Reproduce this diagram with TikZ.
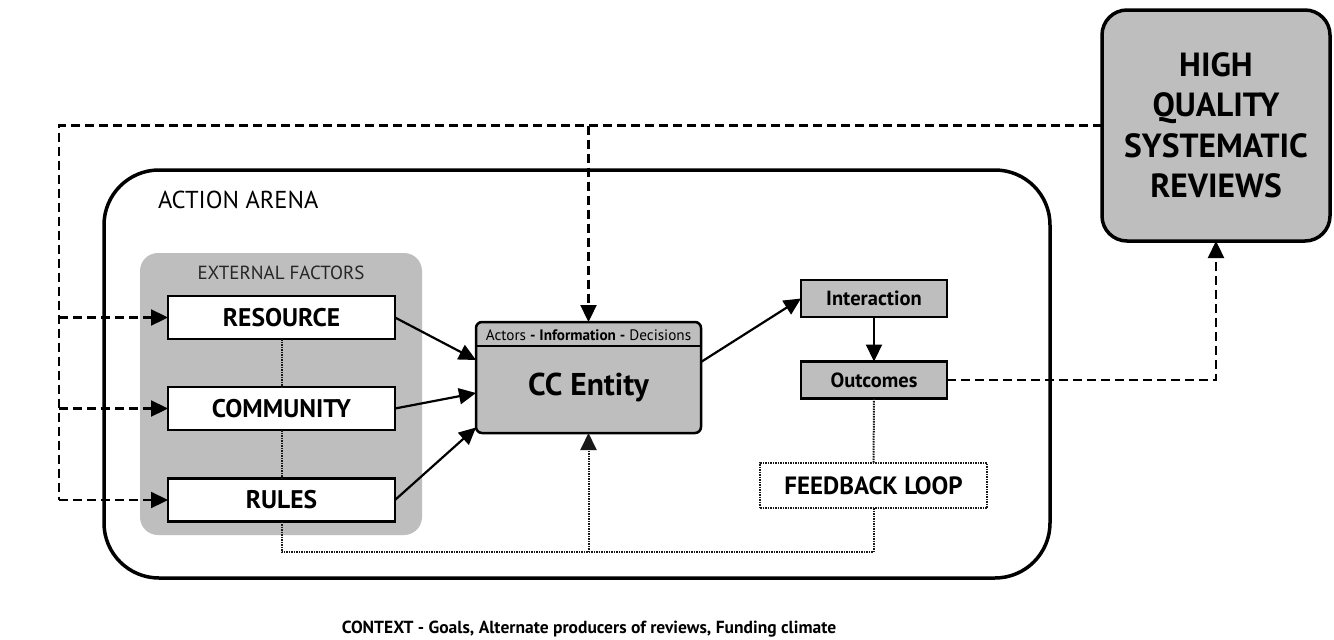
\documentclass[tikz,border=0pt]{standalone}
\usepackage{fontspec}
\setmainfont{PT Sans}
\usetikzlibrary{arrows.meta}
\definecolor{boxgray}{HTML}{BEBEBF}
\begin{document}
\begin{tikzpicture}[x=1pt,y=-1pt,
  every node/.style={inner sep=0pt, outer sep=0pt},
  tip/.style={-{Triangle[length=17pt,width=16pt]}},
  solidline/.style={line width=2.2pt},
  dashline/.style={line width=2.3pt, dash pattern=on 9pt off 5pt},
  dotline/.style={line width=2pt, dash pattern=on 1.5pt off 1pt, draw=black!90},
  whitebox/.style={draw, line width=2.5pt, fill=white, minimum width=227pt, minimum height=43pt, font=\fontsize{25.5}{28}\selectfont\bfseries},
  smallbox/.style={draw, line width=2.5pt, fill=boxgray, minimum width=146pt, minimum height=37pt, font=\fontsize{20.5}{22}\selectfont\bfseries},
]
\useasboundingbox (0,0) rectangle (1334,640);
\fill[white] (0,0) rectangle (1334,640);

% containers
\node[draw, line width=3.5pt, rounded corners=55pt, minimum width=946pt, minimum height=408pt] (arena) at (577,374) {};
\node[fill=boxgray, rounded corners=18pt, minimum width=282pt, minimum height=282pt] (ext) at (281,394) {};
\node[anchor=base west, font=\fontsize{24.5}{26}\selectfont] (arenalabel) at (158,208) {ACTION ARENA};
\node[anchor=base, font=\fontsize{19}{22}\selectfont, text=black!85] (extlabel) at (281,279) {EXTERNAL FACTORS};

% external factor boxes
\node[whitebox] (res) at (281.5,317.5) {RESOURCE};
\node[whitebox] (com) at (281.5,408.5) {COMMUNITY};
\node[whitebox] (rul) at (281.5,500) {RULES};

% CC entity
\node[draw, line width=2.5pt, fill=boxgray, rounded corners=6pt, minimum width=225pt, minimum height=111pt] (cc) at (588.5,377.5) {};
\coordinate (hl) at (0,346);
\draw[line width=2.5pt] (cc.west |- hl) -- (cc.east |- hl);
\node[anchor=base, font=\fontsize{15.2}{17}\selectfont] (cchead) at (588.5,340) {Actors \textbf{- Information -} Decisions};
\node[anchor=base, font=\fontsize{31.5}{34}\selectfont\bfseries] (cctext) at (588.5,395) {CC Entity};

% right side
\node[smallbox] (int) at (874,298.5) {Interaction};
\node[smallbox] (out) at (874,380) {Outcomes};
\node[draw, dotline, fill=white, minimum width=227pt, minimum height=45pt, font=\fontsize{25}{27}\selectfont\bfseries] (fb) at (873.5,485.5) {FEEDBACK LOOP};

\node[draw, line width=3.5pt, fill=boxgray, rounded corners=25pt, minimum width=228pt, minimum height=231pt, align=center, font=\fontsize{33.5}{40.5}\selectfont\bfseries] (hq) at (1216,125.5) {HIGH\\QUALITY\\SYSTEMATIC\\REVIEWS};

\node[anchor=base, font=\fontsize{17.5}{20}\selectfont\bfseries] (ctx) at (589,633) {CONTEXT - Goals, Alternate producers of reviews, Funding climate};

% dashed connectors
\coordinate (tl) at (59,125.5);
\coordinate (bl) at (59,500);
\coordinate (tm) at (588.5,125.5);
\coordinate (rc) at (1216,380);
\draw[dashline] (hq.west) -- (tl) -- (bl);
\draw[dashline, tip] (tl |- res) -- (res.west);
\draw[dashline, tip] (tl |- com) -- (com.west);
\draw[dashline, tip] (bl) -- (rul.west);
\draw[dashline, tip] (tm) -- (cc.north);
\draw[dashline, tip] (out.east) -- (rc) -- (hq.south);

% dotted connectors
\coordinate (bb) at (281.5,552);
\coordinate (be) at (873.5,552);
\draw[dotline] (res.south) -- (com.north);
\draw[dotline] (com.south) -- (rul.north);
\draw[dotline] (rul.south) -- (bb) -- (be) -- (fb.south);
\draw[dotline] (out.south) -- (fb.north);
\draw[dotline, tip] (cc.south |- bb) -- (cc.south);

% solid connectors
\draw[solidline, tip] (res.east) -- ([yshift=17.5pt]cc.west);
\draw[solidline, tip] (com.east) -- ([yshift=-15.5pt]cc.west);
\draw[solidline, tip] (rul.east) -- ([yshift=-50pt]cc.west);
\draw[solidline, tip] ([yshift=15.5pt]cc.east) -- (int.west);
\draw[solidline, tip] (int.south) -- (out.north);
\end{tikzpicture}
\end{document}
